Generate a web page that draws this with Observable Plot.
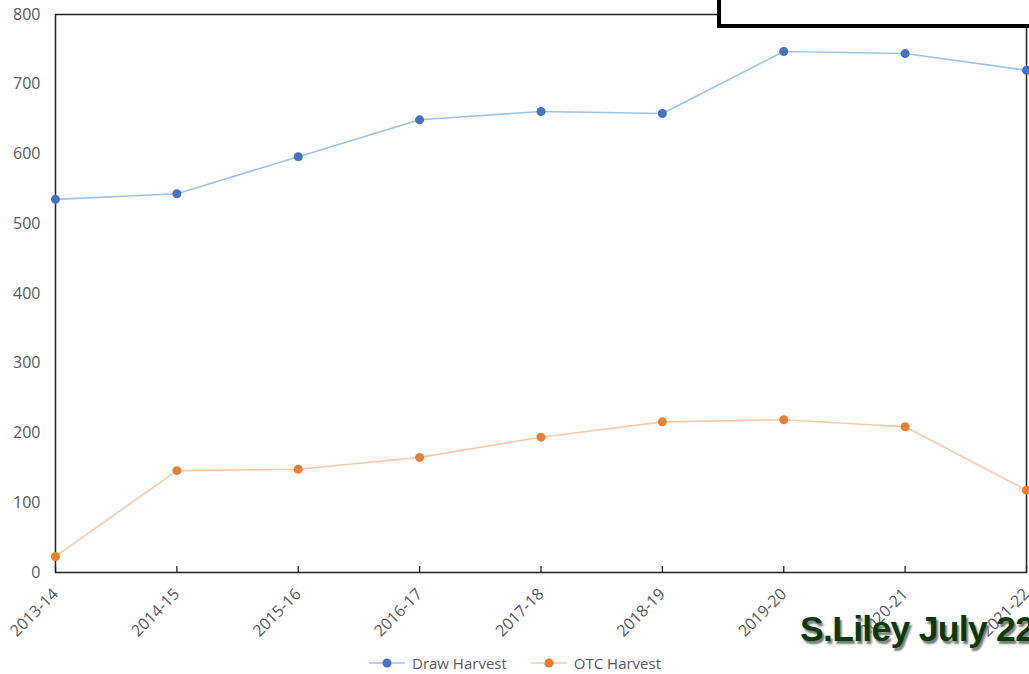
<!DOCTYPE html>
<html><head><meta charset="utf-8">
<script src="https://cdn.jsdelivr.net/npm/d3@7"></script>
<script src="https://cdn.jsdelivr.net/npm/@observablehq/plot@0.6"></script>
<style>
html,body{margin:0;padding:0;background:#fff}
body{width:1029px;height:674px;overflow:hidden;position:relative;font-family:"Open Sans",sans-serif}
#chart{position:absolute;left:0;top:0}
.box{position:absolute;left:717px;top:-10px;width:330px;height:30px;border:4px solid #000;background:#fff}
.legend{position:absolute;left:369px;top:653px;display:flex;align-items:center;font-size:15px;color:#595959}
.legend .item{display:flex;align-items:center;margin-right:24px}
.legend svg{margin-right:7px}
.sig{position:absolute;left:800px;top:611px;font-family:"Liberation Sans",Arial,sans-serif;font-weight:bold;font-size:35.5px;line-height:36px;color:#093a09;white-space:nowrap;text-shadow:2px 3px 2px #7a7a7a;letter-spacing:-0.7px}
</style>
</head><body>
<div id="chart"></div>
<div class="box"></div>
<div class="legend" id="legend"></div>
<div class="sig">S.Liley July 22</div>
<script>
const seasons = ["2013-14","2014-15","2015-16","2016-17","2017-18","2018-19","2019-20","2020-21","2021-22"];
const drawHarvest = [535,543,596,649,661,658,747,744,720];
const otcHarvest = [23,146,148,165,194,216,219,209,118];
const yTicks = [0,100,200,300,400,500,600,700,800];
const seriesNames = ["Draw Harvest","OTC Harvest"];
const lineColors = ["#9dc3e6","#f8cbad"];
const dotColors = ["#4472c4","#ed7d31"];
const seriesValues = [drawHarvest, otcHarvest];

const W = 1029, H = 674, mT = 14, mB = 102, mL = 55, mR = 3;

const seriesMarks = seriesNames.flatMap((name, k) => {
  const rows = seasons.map((season, i) => ({season, value: seriesValues[k][i]}));
  return [
    Plot.line(rows, {x: "season", y: "value", stroke: lineColors[k], strokeWidth: 1.6}),
    Plot.dot(rows, {x: "season", y: "value", fill: dotColors[k], r: 4.5})
  ];
});

const chart = Plot.plot({
  width: W, height: H,
  marginTop: mT, marginBottom: mB, marginLeft: mL, marginRight: mR,
  x: {type: "point", domain: seasons, padding: 0, round: false},
  y: {domain: [0, 800]},
  style: {fontFamily: "Open Sans, sans-serif", fontSize: "16px", color: "#595959", background: "transparent", overflow: "visible"},
  marks: [
    Plot.axisY({ticks: yTicks, tickSize: 0, tickPadding: 15, fill: "#595959", label: null, fontSize: 16}),
    Plot.axisX({tickSize: 0, tickRotate: -45, tickPadding: 19, fill: "#595959", label: null, fontSize: 16}),
    Plot.tickX(seasons, {x: d => d, stroke: "#222", strokeWidth: 1.3, insetTop: H - mT - mB - 6}),
    Plot.frame({stroke: "#222", strokeWidth: 1.5}),
    ...seriesMarks
  ]
});
document.getElementById("chart").appendChild(chart);

const legend = document.getElementById("legend");
seriesNames.forEach((name, k) => {
  const item = document.createElement("div");
  item.className = "item";
  item.innerHTML = `<svg width="36" height="12"><line x1="0" x2="36" y1="6" y2="6" stroke="${lineColors[k]}" stroke-width="1.6"/><circle cx="18" cy="6" r="4.5" fill="${dotColors[k]}"/></svg><span>${name}</span>`;
  legend.appendChild(item);
});
</script>
</body></html>
